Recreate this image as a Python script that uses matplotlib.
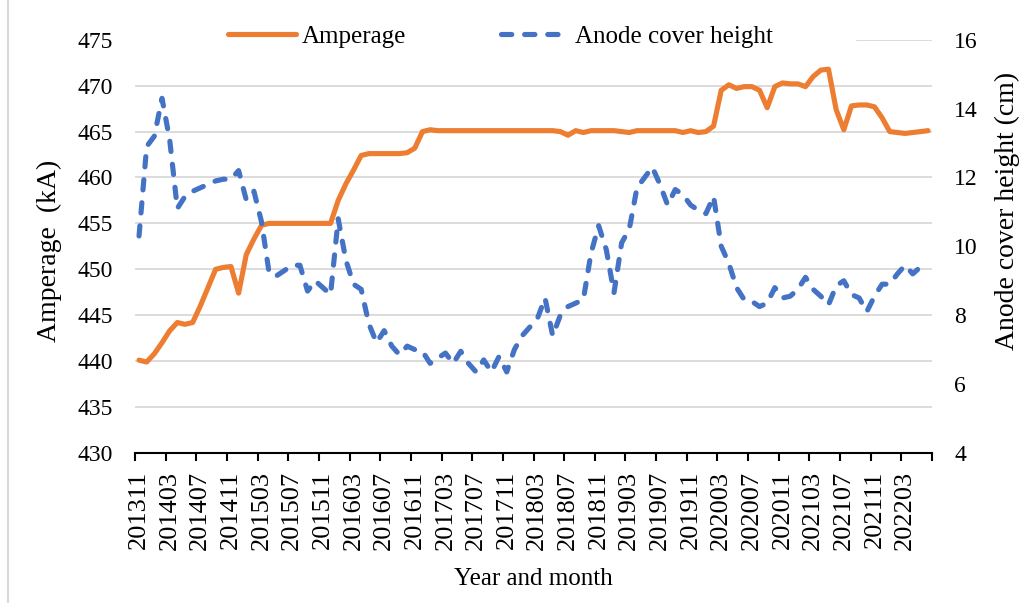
import numpy as np
import pandas as pd
import matplotlib
matplotlib.use('Agg')
import matplotlib.pyplot as plt
from matplotlib.lines import Line2D

plt.rcParams['font.family'] = ['Liberation Serif', 'DejaVu Serif']

# Monthly categories, 201311 .. 202206
months = list(pd.period_range('2013-11', periods=104, freq='M').strftime('%Y%m'))

# Amperage (kA)
amperage = [
    440.1, 439.9, 440.8, 442.0, 443.3, 444.2, 444.0, 444.2, 446.0, 448.0,
    450.0, 450.2, 450.3, 447.4, 451.6, 453.3, 454.8, 455.0, 455.0, 455.0,
    455.0, 455.0, 455.0, 455.0, 455.0, 455.0, 457.5, 459.3, 460.8, 462.4,
    462.6, 462.6, 462.6, 462.6, 462.6, 462.7, 463.2, 465.0, 465.2, 465.1,
    465.1, 465.1, 465.1, 465.1, 465.1, 465.1, 465.1, 465.1, 465.1, 465.1,
    465.1, 465.1, 465.1, 465.1, 465.1, 465.0, 464.6, 465.1, 464.9, 465.1,
    465.1, 465.1, 465.1, 465.0, 464.9, 465.1, 465.1, 465.1, 465.1, 465.1,
    465.1, 464.9, 465.1, 464.9, 465.0, 465.6, 469.5, 470.1, 469.7, 469.9,
    469.9, 469.5, 467.6, 469.9, 470.3, 470.2, 470.2, 469.9, 471.0, 471.7,
    471.8, 467.4, 465.2, 467.8, 467.9, 467.9, 467.7, 466.5, 465.0, 464.9,
    464.8, 464.9, 465.0, 465.1,
]

# Anode cover height (cm)
anode_height = [
    10.3, 12.9, 13.2, 14.3, 13.1, 11.1, 11.45, 11.6, 11.7, 11.8,
    11.9, 11.95, 11.95, 12.2, 11.35, 11.6, 10.7, 9.2, 9.15, 9.3,
    9.45, 9.45, 8.7, 9.0, 8.8, 8.6, 10.8, 9.6, 8.9, 8.75,
    7.75, 7.2, 7.55, 7.1, 6.85, 7.1, 7.0, 6.95, 6.6, 6.75,
    6.9, 6.6, 6.95, 6.6, 6.35, 6.7, 6.35, 6.8, 6.35, 7.0,
    7.4, 7.65, 7.9, 8.5, 7.4, 8.0, 8.25, 8.35, 8.45, 9.8,
    10.6, 9.9, 8.65, 10.1, 10.5, 11.7, 12.0, 12.3, 11.8, 11.2,
    11.65, 11.5, 11.2, 11.05, 10.95, 11.45, 10.0, 9.5, 8.8, 8.45,
    8.4, 8.25, 8.35, 8.8, 8.5, 8.55, 8.75, 9.1, 8.75, 8.55,
    8.3, 8.85, 9.0, 8.6, 8.5, 8.1, 8.55, 8.9, 8.9, 9.2,
    9.45, 9.2, 9.4, 9.4,
]

orange = '#ED7D31'
blue = '#4472C4'
grid_col = '#D9D9D9'

x = np.arange(len(months))

fig, ax = plt.subplots(figsize=(10.32, 6.03), dpi=100)
fig.subplots_adjust(left=0.131, right=0.903, bottom=0.249, top=0.934)
ax2 = ax.twinx()

l1, = ax.plot(x, amperage, color=orange, lw=3.7, solid_capstyle='round',
              solid_joinstyle='round', label='Amperage')
l2, = ax2.plot(x, anode_height, color=blue, lw=3.7, linestyle=(0, (2.0, 2.5)),
               dash_capstyle='round', label='Anode cover height')

# left axis
ax.set_ylim(430, 475)
ax.set_yticks(np.arange(430, 476, 5))
ax.set_xlim(-0.5, len(months) - 0.5)
ax.yaxis.grid(True, color=grid_col, lw=1.3)
ax.set_axisbelow(True)
ax.get_ygridlines()[-1].set_visible(False)
ax.axhline(475, xmin=0.906, xmax=1, color=grid_col, lw=1.3)
ax.tick_params(axis='y', length=0, pad=16, labelsize=17)
ax.set_ylabel('Amperage  (kA)', fontsize=20)
ax.yaxis.set_label_coords(-0.092, 0.49)

# right axis
ax2.set_ylim(4, 16)
ax2.set_yticks(np.arange(4, 17, 2))
ax2.tick_params(axis='y', length=0, pad=16, labelsize=17)
ax2.set_ylabel('Anode cover height (cm)', fontsize=20)
ax2.yaxis.set_label_coords(1.079, 0.585)

# x axis: labels every 4 months, tick marks between categories
ax.set_xticks(x[::4])
ax.set_xticklabels(months[::4], rotation=90, fontsize=19)
ax.set_xticks(np.arange(-0.5, len(months), 4), minor=True)
ax.tick_params(axis='x', which='major', length=0, pad=13)
ax.tick_params(axis='x', which='minor', length=6, width=1.5, color='black')
ax.set_xlabel('Year and month', fontsize=18, labelpad=13)

for a in (ax, ax2):
    for side in ('top', 'left', 'right'):
        a.spines[side].set_visible(False)
ax2.spines['bottom'].set_visible(False)
ax.spines['bottom'].set_linewidth(1.5)

fig.legend(handles=[l1, l2], loc='center', bbox_to_anchor=(0.485, 0.939),
           ncol=2, frameon=False, fontsize=18, handlelength=2.7,
           handletextpad=0.25, columnspacing=3.8)

# chart area border on the left
fig.add_artist(Line2D([0.008, 0.008], [0, 1], color=grid_col, lw=1.5))

plt.savefig('out.png', dpi=100)
